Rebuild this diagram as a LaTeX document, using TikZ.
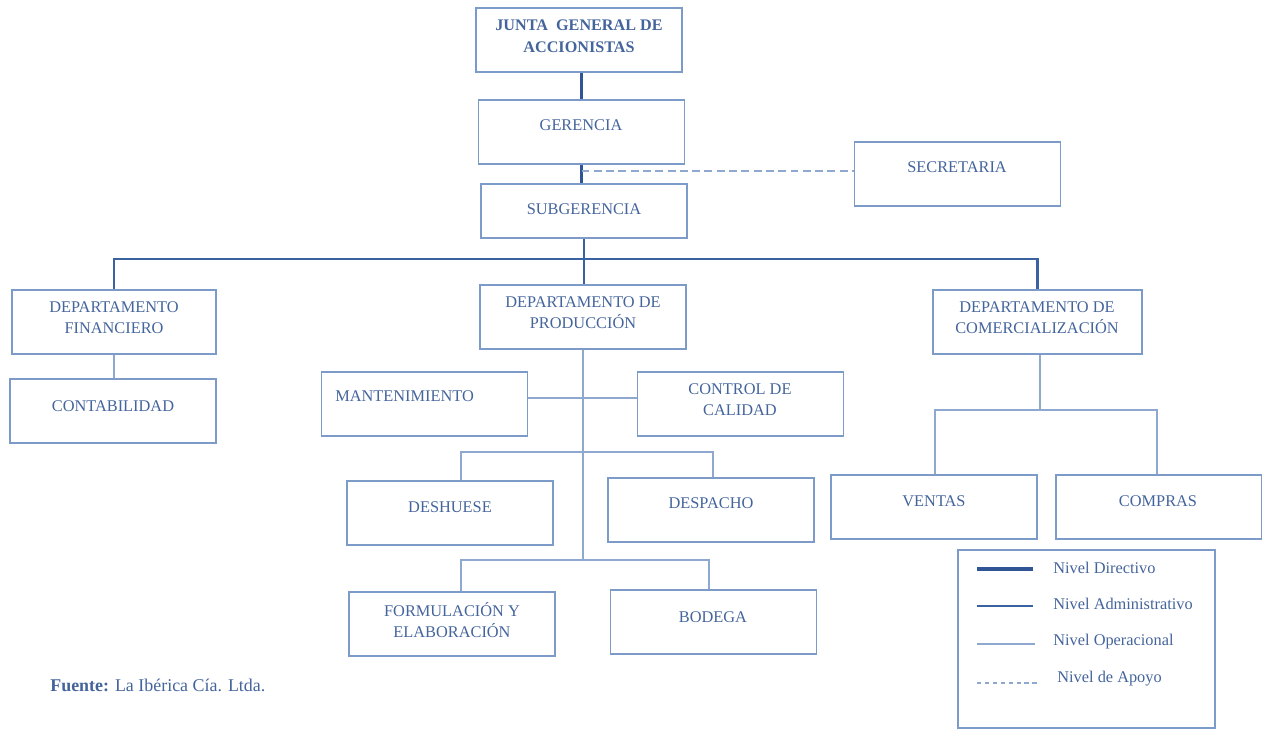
\documentclass[tikz,border=0pt]{standalone}
\usepackage{fontspec}
\setmainfont{Liberation Serif}
\usetikzlibrary{calc}
\definecolor{txtblue}{HTML}{44649C}
\definecolor{boxblue}{HTML}{7D9BC8}
\definecolor{dirblue}{HTML}{2F5597}
\definecolor{admblue}{HTML}{3A62A0}
\definecolor{opeblue}{HTML}{8FA8D0}
\begin{document}
\begin{tikzpicture}[x=0.02cm,y=-0.02cm,
  box/.style={draw=boxblue,line width=1.1pt,minimum width=4.12cm,minimum height=1.28cm,inner sep=0pt},
  lbl/.style={text=txtblue,font=\fontsize{9.3pt}{12pt}\selectfont,align=center,inner sep=0pt},
  dirline/.style={draw=dirblue,line width=2.2pt},
  admline/.style={draw=admblue,line width=1.5pt},
  opeline/.style={draw=opeblue,line width=0.9pt},
  apoline/.style={draw=opeblue,line width=0.9pt,dash pattern=on 4.5pt off 2.5pt}]
\useasboundingbox (0,0) rectangle (1264,730);
% boxes
\node[box] (jun) at (579,40) {};
\node[box] (ger) at (581.5,132) {};
\node[box] (sec) at (957.5,174) {};
\node[box,minimum height=1.08cm] (sub) at (584,211) {};
\node[box,minimum width=4.08cm] (fin) at (114,322) {};
\node[box] (con) at (113,411) {};
\node[box] (pro) at (583,317) {};
\node[box,minimum width=4.18cm] (com) at (1037.5,322) {};
\node[box] (man) at (424.5,404) {};
\node[box] (cal) at (740.5,404) {};
\node[box] (des) at (450,513) {};
\node[box] (dpa) at (711,510) {};
\node[box] (ven) at (934,507) {};
\node[box] (cmp) at (1158.5,507) {};
\node[box] (for) at (452,624) {};
\node[box] (bod) at (713.5,622) {};
\node[box,minimum width=5.14cm,minimum height=3.56cm] (leg) at (1086.5,639) {};
% labels
\node[lbl,font=\fontsize{9.2pt}{12.5pt}\selectfont\bfseries] (tjun) at (579,36) {JUNTA\ \ GENERAL DE\\ACCIONISTAS};
\node[lbl] (tger) at (581,125) {GERENCIA};
\node[lbl] (tsec) at (957,167) {SECRETARIA};
\node[lbl] (tsub) at (584,209) {SUBGERENCIA};
\node[lbl] (tfin) at (114,318) {DEPARTAMENTO\\FINANCIERO};
\node[lbl] (tcon) at (113,406) {CONTABILIDAD};
\node[lbl] (tpro) at (583,313) {DEPARTAMENTO DE\\PRODUCCIÓN};
\node[lbl] (tcom) at (1037,318) {DEPARTAMENTO DE\\COMERCIALIZACIÓN};
\node[lbl,anchor=west] (tman) at (335,396) {MANTENIMIENTO};
\node[lbl] (tcal) at (740,400) {CONTROL DE\\CALIDAD};
\node[lbl] (tdes) at (450,507) {DESHUESE};
\node[lbl] (tdpa) at (711,503) {DESPACHO};
\node[lbl] (tven) at (934,501) {VENTAS};
\node[lbl] (tcmp) at (1158,501) {COMPRAS};
\node[lbl] (tfor) at (452,620) {FORMULACIÓN Y\\ELABORACIÓN};
\node[lbl] (tbod) at (713,617) {BODEGA};
% coordinates
\coordinate (bus) at (583,259);
\coordinate (r1) at (583,452);
\coordinate (r2) at (583,560);
\coordinate (r3) at (1040,410);
% directive
\draw[dirline] (ger.north |- jun.south) -- (ger.north);
\draw[dirline] (ger.south) -- (ger.south |- sub.north);
\draw[apoline] ($(ger.south)+(0,6)$) -- (sec.west |- {$(ger.south)+(0,6)$});
% administrative
\draw[admline] (sub.south) -- (sub.south |- pro.north);
\draw[admline] (fin.north) -- (fin.north |- bus) -- (com.north |- bus) -- (com.north);
% operational
\draw[opeline] (fin.south) -- (fin.south |- con.north);
\draw[opeline] (pro.south) -- (pro.south |- r2);
\draw[opeline] ($(man.east)+(0,-6)$) -- ($(cal.west)+(0,-6)$);
\draw[opeline] ([xshift=0.22cm]des.north) -- ([xshift=0.22cm]des.north |- r1) -- ([xshift=0.04cm]dpa.north |- r1) -- ([xshift=0.04cm]dpa.north);
\draw[opeline] ([xshift=0.18cm]for.north) -- ([xshift=0.18cm]for.north |- r2) -- ([xshift=-0.09cm]bod.north |- r2) -- ([xshift=-0.09cm]bod.north);
\draw[opeline] ([xshift=0.05cm]com.south) -- (r3);
\draw[opeline] ([xshift=0.02cm]ven.north) -- ([xshift=0.02cm]ven.north |- r3) -- ([xshift=-0.03cm]cmp.north |- r3) -- ([xshift=-0.03cm]cmp.north);
% legend
\coordinate (l1a) at (977,569); \coordinate (l1b) at (1033,569);
\coordinate (l2a) at (977,606); \coordinate (l2b) at (1033,606);
\coordinate (l3a) at (977,644); \coordinate (l3b) at (1035,644);
\coordinate (l4a) at (977,683); \coordinate (l4b) at (1038,683);
\draw[dirline] (l1a) -- (l1b);
\draw[admline] (l2a) -- (l2b);
\draw[opeline,line width=1.1pt] (l3a) -- (l3b);
\draw[apoline,dash pattern=on 2.5pt off 2pt] (l4a) -- (l4b);
\node[lbl,anchor=west] (g1) at (1053,568) {Nivel Directivo};
\node[lbl,anchor=west] (g2) at (1053,604) {Nivel Administrativo};
\node[lbl,anchor=west] (g3) at (1053,642) {Nivel Operacional};
\node[lbl,anchor=west] (g4) at (1057,679) {Nivel de Apoyo};
% source
\node[lbl,anchor=west,font=\fontsize{10.2pt}{12pt}\selectfont] (src) at (50,685) {\textbf{Fuente:} La Ibérica Cía. Ltda.};
\end{tikzpicture}
\end{document}
